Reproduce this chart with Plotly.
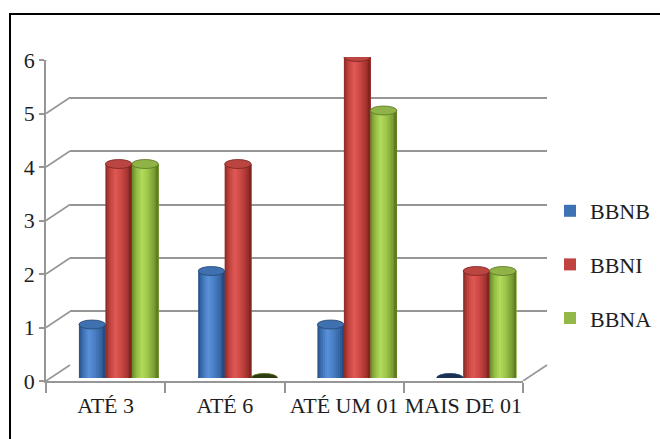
import plotly.graph_objects as go

# ---- data -------------------------------------------------------------
categories = ["ATÉ 3", "ATÉ 6", "ATÉ UM 01", "MAIS DE 01"]
series_names = ["BBNB", "BBNI", "BBNA"]
bbnb = [1, 2, 1, 0]
bbni = [4, 4, 6, 2]
bbna = [4, 0, 5, 2]
y_ticks = [0, 1, 2, 3, 4, 5, 6]

series_values = [bbnb, bbni, bbna]

# ---- styling ----------------------------------------------------------
W, H = 660, 439
FONT = "Liberation Serif"
GRID = "#969696"

# cylinder shading profiles (position across bar width -> colour)
profiles = [
    [(0.0, "#274c80"), (0.15, "#3c70b4"), (0.38, "#5b91d8"), (0.6, "#4a7fc5"), (0.85, "#3363a0"), (1.0, "#234474")],
    [(0.0, "#842825"), (0.15, "#bd403c"), (0.38, "#df5a56"), (0.6, "#cd4945"), (0.85, "#a23330"), (1.0, "#74201e")],
    [(0.0, "#66862a"), (0.15, "#8db63f"), (0.38, "#b3db5d"), (0.6, "#9cc74a"), (0.85, "#7a9c33"), (1.0, "#587322")],
]
cap_colors = ["#3f70b0", "#bb4541", "#8fb346"]
rim_colors = ["#25466f", "#7a2321", "#5a7424"]
zero_caps = ["#1c3150", "#4a1413", "#2e3d10"]
legend_colors = ["#3f72b4", "#c0433f", "#93b848"]


def hex_rgb(h):
    h = h.lstrip("#")
    return tuple(int(h[i:i + 2], 16) for i in (0, 2, 4))


def shade(profile, t):
    for (p0, c0), (p1, c1) in zip(profile, profile[1:]):
        if p0 <= t <= p1:
            f = (t - p0) / (p1 - p0)
            a, b = hex_rgb(c0), hex_rgb(c1)
            r = [round(a[k] + (b[k] - a[k]) * f) for k in range(3)]
            return "rgb(%d,%d,%d)" % tuple(r)
    return profile[-1][1]


def px(x):
    return x / W


def py(y):
    return 1 - y / H


# geometry of the pseudo-3D frame (pixels)
FRONT_X = (46, 523)
FRONT_Y = (381, 60)
DEPTH_X, DEPTH_Y = 24, 16
MID_X, MID_Y = 13, 3

bar_w = 0.222          # width of one cylinder, in category units
n_strips = 14          # vertical shading strips per cylinder

fig = go.Figure()

# placeholder traces so the front and back axes get their categories
fig.add_trace(go.Scatter(x=categories, y=[0] * len(categories), mode="markers",
                         marker=dict(opacity=0), showlegend=False, hoverinfo="skip",
                         xaxis="x", yaxis="y"))
fig.add_trace(go.Scatter(x=categories, y=[0] * len(categories), mode="markers",
                         marker=dict(opacity=0), showlegend=False, hoverinfo="skip",
                         xaxis="x2", yaxis="y2"))

shapes = []

for s, (name, vals) in enumerate(zip(series_names, series_values)):
    left = -1.5 * bar_w + s * bar_w
    for j in range(n_strips):
        a0 = j / n_strips
        mid = (j + 0.5) / n_strips
        fig.add_trace(go.Bar(
            x=categories, y=vals,
            offset=left + a0 * bar_w, width=(1 - a0) * bar_w,
            marker=dict(color=shade(profiles[s], mid), line=dict(width=0)),
            name=name, legendgroup=name, showlegend=False,
            hoverinfo="skip", xaxis="x3", yaxis="y3",
        ))
    # legend entry for the series
    fig.add_trace(go.Bar(
        x=[categories[0]], y=[None], name=name, legendgroup=name,
        marker=dict(color=legend_colors[s], line=dict(width=0)),
        showlegend=True, xaxis="x3", yaxis="y3", hoverinfo="skip",
    ))
    # elliptical tops and bottoms of the cylinders
    for i, v in enumerate(vals):
        x0, x1 = i + left, i + left + bar_w
        shapes.append(dict(type="circle", xref="x3", yref="y3", x0=x0, x1=x1,
                           ysizemode="pixel", yanchor=0, y0=-4.5, y1=4.5,
                           fillcolor=shade(profiles[s], 0.5), line=dict(width=0),
                           layer="below"))
        shapes.append(dict(type="circle", xref="x3", yref="y3", x0=x0, x1=x1,
                           ysizemode="pixel", yanchor=v, y0=-4.5, y1=4.5,
                           fillcolor=cap_colors[s] if v > 0 else zero_caps[s],
                           line=dict(color=rim_colors[s], width=0.8),
                           layer="above"))

# diagonal edges joining the front axis to the back wall
for v in y_ticks:
    shapes.append(dict(type="line", xref="paper", yref="y",
                       xsizemode="pixel", xanchor=px(FRONT_X[0]), x0=0, x1=DEPTH_X,
                       ysizemode="pixel", yanchor=v, y0=0, y1=DEPTH_Y,
                       line=dict(color=GRID, width=1.6), layer="below"))
shapes.append(dict(type="line", xref="paper", yref="y",
                   xsizemode="pixel", xanchor=px(FRONT_X[1]), x0=0, x1=DEPTH_X,
                   ysizemode="pixel", yanchor=0, y0=0, y1=DEPTH_Y,
                   line=dict(color=GRID, width=1.6), layer="below"))

# outer chart border
shapes.append(dict(type="rect", xref="paper", yref="paper",
                   x0=px(10), x1=1.05, y0=-0.05, y1=py(14),
                   line=dict(color="#000000", width=2), fillcolor="rgba(0,0,0,0)"))

tick_font = dict(family=FONT, size=22, color="#1e1e1e")

fig.update_layout(
    width=W, height=H,
    margin=dict(l=0, r=0, t=0, b=0, pad=0, autoexpand=False),
    paper_bgcolor="white", plot_bgcolor="rgba(0,0,0,0)",
    barmode="overlay",
    showlegend=True,
    legend=dict(x=px(550), y=py(190), xanchor="left", yanchor="top",
                font=tick_font, traceorder="grouped", tracegroupgap=22,
                bgcolor="rgba(0,0,0,0)", itemclick=False),
    xaxis=dict(domain=[px(FRONT_X[0]), px(FRONT_X[1])], anchor="y",
               type="category", categoryarray=categories, range=[-0.5, 3.5],
               tickson="boundaries", ticks="outside", ticklen=10, tickwidth=1.6,
               tickcolor=GRID, showline=True, linecolor=GRID, linewidth=1.6,
               showgrid=False, zeroline=False, tickfont=tick_font, tickangle=0,
               ticklabelstandoff=4, automargin=False, fixedrange=True),
    yaxis=dict(domain=[py(FRONT_Y[0]), py(FRONT_Y[1])], anchor="x",
               range=[0, 6], tickvals=y_ticks, ticks="outside", ticklen=5,
               tickwidth=1.6, tickcolor=GRID, showline=True, linecolor=GRID,
               linewidth=1.6, showgrid=False, zeroline=False, tickfont=tick_font,
               automargin=False, fixedrange=True),
    xaxis2=dict(domain=[px(FRONT_X[0] + DEPTH_X), px(FRONT_X[1] + DEPTH_X)],
                anchor="y2", type="category", range=[-0.5, 3.5],
                visible=False, fixedrange=True),
    yaxis2=dict(domain=[py(FRONT_Y[0] - DEPTH_Y), py(FRONT_Y[1] - DEPTH_Y)],
                anchor="x2", range=[-0.002, 6.002], tickvals=y_ticks,
                showgrid=True, gridcolor=GRID, gridwidth=1.6,
                showticklabels=False, ticks="", showline=False, zeroline=False,
                fixedrange=True),
    xaxis3=dict(domain=[px(FRONT_X[0] + MID_X), px(FRONT_X[1] + MID_X)],
                anchor="y3", type="category", categoryarray=categories,
                range=[-0.5, 3.5], visible=False, fixedrange=True),
    yaxis3=dict(domain=[py(FRONT_Y[0] - MID_Y), py(FRONT_Y[1] - MID_Y)],
                anchor="x3", range=[0, 6], visible=False, fixedrange=True),
    shapes=shapes,
)

fig.write_html("out.html")
